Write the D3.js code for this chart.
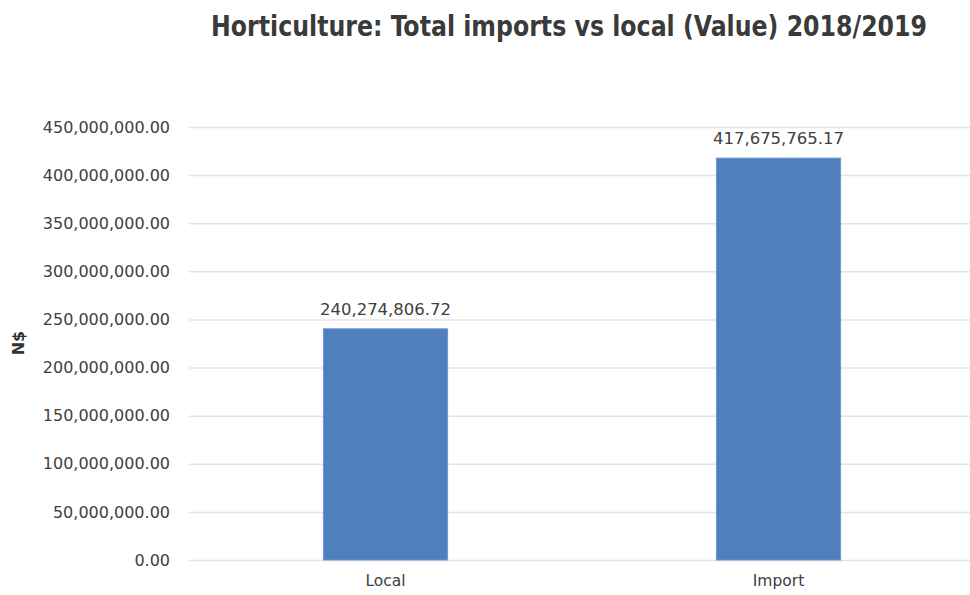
<!DOCTYPE html>
<html>
<head>
<meta charset="utf-8">
<script src="https://cdn.jsdelivr.net/npm/d3@7"></script>
<style>
  body { margin: 0; background: #fff; }
  svg { display: block; }
</style>
</head>
<body>
<svg id="chart" width="970" height="595"></svg>
<script>
"use strict";

// chart data
var categories = ["Local", "Import"];
var values = [240274806.72, 417675765.17];
var yTicks = [0, 50000000, 100000000, 150000000, 200000000, 250000000,
    300000000, 350000000, 400000000, 450000000];

var MARGIN = { left: 189, right: 975, top: 127, bottom: 560 };
var FONT = "'DejaVu Sans', Verdana, sans-serif";
var fmt = d3.format(",.2f");

var svg = d3.select("#chart");

var xScale = d3.scaleBand()
    .domain(categories)
    .range([MARGIN.left, MARGIN.right])
    .paddingInner(0.684)
    .paddingOuter(0.342);

var yScale = d3.scaleLinear()
    .domain([0, 450000000])
    .range([MARGIN.bottom, MARGIN.top]);

// title
svg.append("text")
    .attr("x", 569)
    .attr("y", 36)
    .attr("text-anchor", "middle")
    .attr("textLength", 716)
    .attr("lengthAdjust", "spacingAndGlyphs")
    .style("font-family", "'DejaVu Sans Condensed', 'DejaVu Sans', sans-serif")
    .style("font-weight", "bold")
    .style("font-size", "27.5px")
    .style("fill", "#3a3a3a")
    .text("Horticulture: Total imports vs local (Value) 2018/2019");

// gridlines
svg.append("g")
    .attr("class", "grid")
    .selectAll("line")
    .data(yTicks)
    .enter().append("line")
    .attr("x1", MARGIN.left)
    .attr("x2", MARGIN.right)
    .attr("y1", function(d) { return yScale(d) + 0.5; })
    .attr("y2", function(d) { return yScale(d) + 0.5; })
    .style("stroke", "#e4e4e4")
    .style("stroke-width", 1.5);

// y axis labels
var yAxis = d3.axisLeft(yScale)
    .tickValues(yTicks)
    .tickFormat(fmt)
    .tickSize(0)
    .tickPadding(19);

var yAxisG = svg.append("g")
    .attr("transform", "translate(" + MARGIN.left + ",0)")
    .call(yAxis);
yAxisG.select(".domain").remove();
yAxisG.selectAll("text")
    .style("font-family", FONT)
    .style("font-size", "16px")
    .style("fill", "#404040");

// x axis labels
var xAxis = d3.axisBottom(xScale).tickSize(0).tickPadding(15);
var xAxisG = svg.append("g")
    .attr("transform", "translate(0," + MARGIN.bottom + ")")
    .call(xAxis);
xAxisG.select(".domain").remove();
xAxisG.selectAll("text")
    .style("font-family", FONT)
    .style("font-size", "15.5px")
    .style("fill", "#404040");

// y axis title
svg.append("text")
    .attr("transform", "translate(24,343) rotate(-90)")
    .attr("text-anchor", "middle")
    .style("font-family", FONT)
    .style("font-weight", "bold")
    .style("font-size", "16px")
    .style("fill", "#333")
    .text("N$");

// bars
var bars = svg.append("g").attr("class", "bars");
bars.selectAll("rect")
    .data(values)
    .enter().append("rect")
    .attr("x", function(d, i) { return xScale(categories[i]); })
    .attr("width", xScale.bandwidth())
    .attr("y", function(d) { return yScale(d); })
    .attr("height", function(d) { return yScale(0) - yScale(d); })
    .style("fill", "#4f7fbc")
    .style("stroke", "#6f97cb")
    .style("stroke-width", 1);

// value labels
svg.append("g")
    .selectAll("text")
    .data(values)
    .enter().append("text")
    .attr("x", function(d, i) { return xScale(categories[i]) + xScale.bandwidth() / 2; })
    .attr("y", function(d) { return yScale(d) - 14; })
    .attr("text-anchor", "middle")
    .style("font-family", FONT)
    .style("font-size", "16.5px")
    .style("fill", "#404040")
    .text(function(d) { return fmt(d); });
</script>
</body>
</html>
